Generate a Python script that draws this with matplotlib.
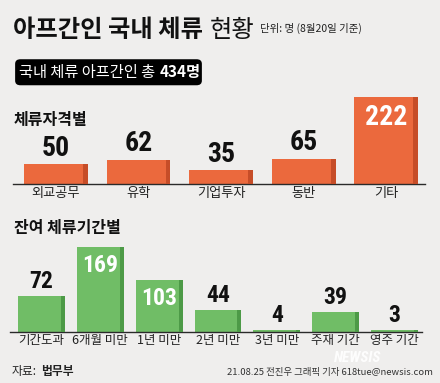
import matplotlib
matplotlib.use("Agg")
import matplotlib.pyplot as plt
from matplotlib.patches import FancyBboxPatch

# data
status_labels = ["외교공무", "유학", "기업투자", "동반", "기타"]
status_values = [50, 62, 35, 65, 222]

period_labels = ["기간도과", "6개월 미만", "1년 미만", "2년 미만", "3년 미만", "주재 기간", "영주 기간"]
period_values = [72, 169, 103, 44, 4, 39, 3]

total = 434

# style
BG = "#efeeed"
ORANGE, ORANGE_SIDE = "#eb693d", "#c64d28"
GREEN, GREEN_SIDE = "#70bd66", "#4d9a47"
KR = ["Noto Sans CJK KR", "DejaVu Sans"]
NUM = ["Roboto Condensed", "Liberation Sans Narrow", "DejaVu Sans"]
plt.rcParams["font.family"] = KR

W, H = 440, 383
fig = plt.figure(figsize=(W / 100, H / 100), dpi=100, facecolor=BG)


def px_axes(x0, y_top, x1, y_bottom):
    return fig.add_axes([x0 / W, 1 - y_bottom / H, (x1 - x0) / W, (y_bottom - y_top) / H])


def ftext(x, y, s, **kw):
    return fig.text(x / W, 1 - y / H, s, **kw)


def bar_panel(ax, labels, values, color, side_color, width, side, ymax, num_size, tick_size, pad):
    x = list(range(len(values)))
    ax.set_facecolor("none")
    ax.bar(x, values, width=width, color=color, zorder=2)
    ax.bar([i + width / 2 - side / 2 for i in x], values, width=side, color=side_color, zorder=3)
    ax.set_ylim(0, ymax)
    for s in ["top", "left", "right"]:
        ax.spines[s].set_visible(False)
    ax.spines["bottom"].set_color("#2a2a2a")
    ax.spines["bottom"].set_linewidth(1.0)
    ax.set_yticks([])
    ax.set_xticks(x)
    ax.set_xticklabels(labels, fontsize=tick_size, color="#222222")
    ax.tick_params(axis="x", length=0, pad=pad)
    for i, v in zip(x, values):
        if v > 100:
            ax.annotate(str(v), (i, v), xytext=(0, -5), textcoords="offset points",
                        ha="center", va="top", color="white", fontsize=num_size,
                        fontweight="bold", family=NUM)
        else:
            ax.annotate(str(v), (i, v), xytext=(0, 2), textcoords="offset points",
                        ha="center", va="bottom", color="#111111", fontsize=num_size,
                        fontweight="bold", family=NUM)


# top panel: by status
ax1 = px_axes(13, 94, 425, 184)
ax1.set_xlim(-0.52, 4.47)
bar_panel(ax1, status_labels, status_values, ORANGE, ORANGE_SIDE, 0.775, 0.06,
          90 / 0.392, 20, 9.5, 2)

# bottom panel: by remaining period
ax2 = px_axes(10, 244, 422, 331.5)
ax2.set_xlim(-0.534, 6.466)
bar_panel(ax2, period_labels, period_values, GREEN, GREEN_SIDE, 0.797, 0.068,
          87.5 / 0.5, 17, 9, 2)

# titles
renderer = fig.canvas.get_renderer()
t1 = ftext(13, 37, "아프간인 국내 체류", fontsize=17.5, fontweight="black", va="baseline", color="#111111")
bb = t1.get_window_extent(renderer)
t2 = fig.text((bb.x1 + 7) / W, 1 - 37 / H, "현황", fontsize=17.5, fontweight="normal", va="baseline", color="#111111")
bb2 = t2.get_window_extent(renderer)
fig.text((bb2.x1 + 5) / W, 1 - 32 / H, "단위: 명 (8월20일 기준)", fontsize=7.5, va="baseline", color="#222222")

# total box
fig.patches.append(FancyBboxPatch((16 / W, 1 - 84.5 / H), 185 / W, 24.5 / H,
                                  boxstyle="round,pad=0.002,rounding_size=0.012",
                                  transform=fig.transFigure, fc="black", ec="none"))
t3 = ftext(19, 77.5, "국내 체류 아프간인 총", fontsize=11, fontweight="medium", va="baseline", color="white")
bb3 = t3.get_window_extent(renderer)
fig.text((bb3.x1 + 4) / W, 1 - 77.5 / H, f"{total}명", fontsize=11, fontweight="bold", va="baseline", color="white")

# section headings
ftext(14, 119.5, "체류자격별", fontsize=11.5, fontweight="bold", va="center", color="#111111")
ftext(14, 227.5, "잔여 체류기간별", fontsize=11.5, fontweight="bold", va="center", color="#111111")

# watermark
ftext(358, 358.5, "NEWSIS", fontsize=11, fontweight="bold", style="italic", family=NUM,
      ha="center", va="center", color="white", alpha=0.9, zorder=0)

# footer
t4 = ftext(12, 371, "자료:", fontsize=8.5, va="center", color="#222222")
bb4 = t4.get_window_extent(renderer)
fig.text((bb4.x1 + 4) / W, 1 - 371 / H, "법무부", fontsize=8.5, fontweight="bold", va="center", color="#222222")
ftext(433, 373, "21.08.25 전진우 그래픽 기자 618tue@newsis.com", fontsize=6.8, ha="right", va="center", color="#333333")

fig.savefig("out.png", dpi=100, facecolor=BG)
